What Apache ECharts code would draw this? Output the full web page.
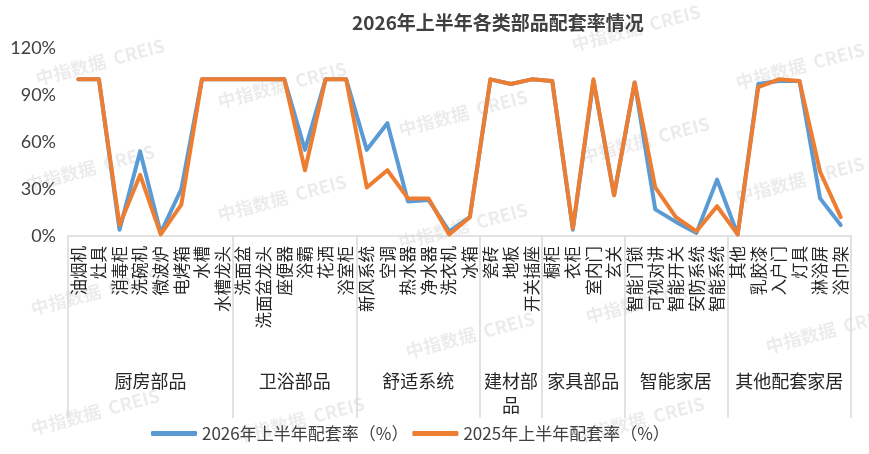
<!DOCTYPE html>
<html>
<head>
<meta charset="utf-8">
<script src="https://cdn.jsdelivr.net/npm/echarts@6/dist/echarts.min.js"></script>
<style>html,body{margin:0;padding:0;background:#fff;}#c{width:869px;height:454px;}</style>
</head>
<body>
<div id="c"></div>
<script>
var categories = ['油烟机','灶具','消毒柜','洗碗机','微波炉','电烤箱','水槽','水槽龙头',
  '洗面盆','洗面盆龙头','座便器','浴霸','花洒','浴室柜',
  '新风系统','空调','热水器','净水器','洗衣机','冰箱',
  '瓷砖','地板','开关插座',
  '橱柜','衣柜','室内门','玄关',
  '智能门锁','可视对讲','智能开关','安防系统','智能系统',
  '其他','乳胶漆','入户门','灯具','淋浴屏','浴巾架'];
var groupNames = ['厨房部品','卫浴部品','舒适系统','建材部\n品','家具部品','智能家居','其他配套家居'];
var groupSizes = [8,6,6,3,4,5,6];
var rate2026 = [100,100,4,54,2,30,100,100, 100,100,100,55,100,100, 55,72,22,23,3,12, 100,97,100, 99,4,99,26, 98,17,9,2,36, 1,97,99,99,24,7];
var rate2025 = [100,100,7,39,1,20,100,100, 100,100,100,42,100,100, 31,42,24,24,1,12, 100,97,100, 99,5,100,26, 98,31,12,3,19, 1,95,100,99,41,12];
var yTicks = [0,30,60,90,120];
var seriesNames = ['2026年上半年配套率（%）','2025年上半年配套率（%）'];

var bounds = [0], centers = [], acc = 0;
groupSizes.forEach(function(s){ centers.push(acc + s/2); acc += s; bounds.push(acc); });

var chart = echarts.init(document.getElementById('c'));
var wm = [[100,62],[282,85],[463,113],[645,140],[636,28],[800,66],[90,168],[282,198],[463,226],[800,180],[95,292],[470,335],[95,412],[300,420],[650,300],[830,330],[640,420]];
var graphics = wm.map(function(p){
  return {type:'text', x:p[0], y:p[1], rotation:0.26, z:0, silent:true,
    style:{text:'中指数据  CREIS', fill:'rgba(0,0,0,0.08)', font:'bold 18px "Noto Sans CJK SC"', align:'center', verticalAlign:'middle'}};
});
chart.setOption({
  animation:false,
  backgroundColor:'#fff',
  title:{text:'2026年上半年各类部品配套率情况', left:347, top:8,
    textStyle:{fontFamily:'Noto Sans CJK SC', fontSize:19, fontWeight:'bold', color:'#404040'}},
  graphic: graphics,
  grid:{left:68, right:18, top:48, bottom:218, containLabel:false},
  legend:{left:146, top:420, itemWidth:46, itemHeight:5, itemGap:4, icon:'roundRect',
    textStyle:{fontFamily:'Noto Sans CJK SC', fontSize:17, color:'#404040'},
    data:seriesNames},
  xAxis:[{
    type:'category', data:categories, boundaryGap:true,
    axisLine:{show:true, lineStyle:{color:'#d9d9d9', width:1.5}},
    axisTick:{show:false},
    axisLabel:{interval:0, rotate:90, margin:10, fontFamily:'Noto Sans CJK SC', fontSize:16.5, color:'#262626'}
  },{
    type:'value', min:0, max:categories.length, position:'bottom',
    axisLine:{show:false}, splitLine:{show:false},
    axisTick:{show:true, customValues:bounds, length:182, inside:false, lineStyle:{color:'#d9d9d9', width:1.5}},
    axisLabel:{show:true, customValues:centers, margin:133, lineHeight:24,
      formatter:function(v){ var i = centers.indexOf(v); return i>=0 ? groupNames[i] : ''; },
      fontFamily:'Noto Sans CJK SC', fontSize:18, color:'#262626'}
  }],
  yAxis:{type:'value', min:0, max:120, interval:30,
    axisLine:{show:false}, axisTick:{show:false}, splitLine:{show:false},
    axisLabel:{formatter:'{value}%', margin:12, fontFamily:'Lato', fontSize:18, color:'#404040'}},
  series:[
    {name:seriesNames[0], type:'line', data:rate2026, showSymbol:false, symbol:'none', z:3,
      lineStyle:{color:'#5B9BD5', width:4, cap:'round', join:'round'}, itemStyle:{color:'#5B9BD5'}},
    {name:seriesNames[1], type:'line', data:rate2025, showSymbol:false, symbol:'none', z:4,
      lineStyle:{color:'#ED7D31', width:4, cap:'round', join:'round'}, itemStyle:{color:'#ED7D31'}}
  ]
});
</script>
</body>
</html>
